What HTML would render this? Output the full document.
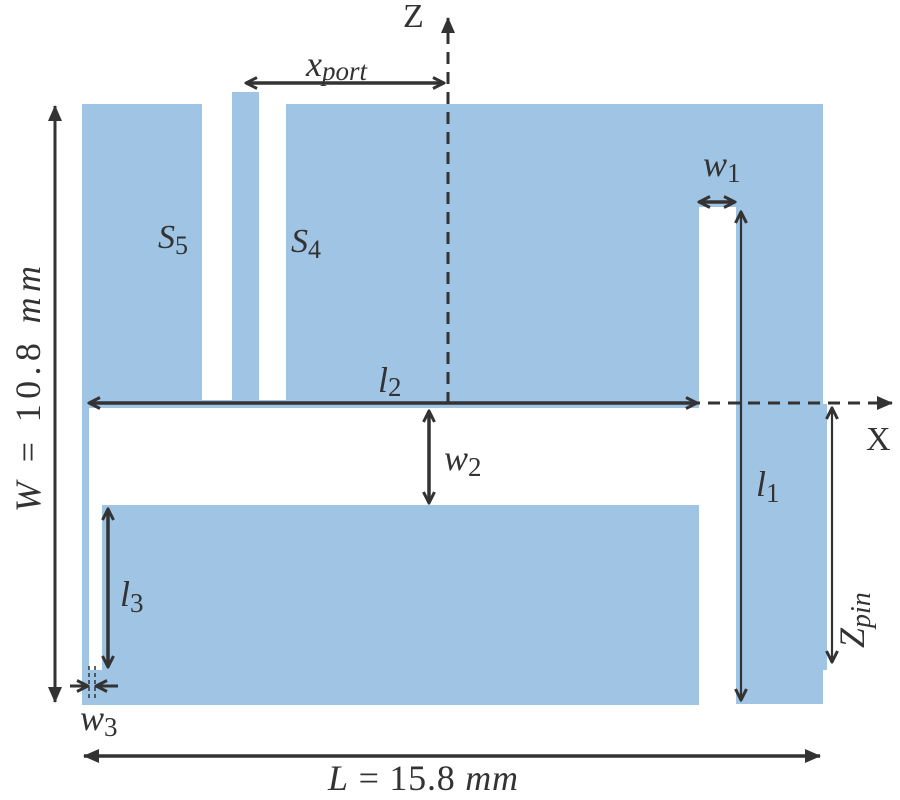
<!DOCTYPE html>
<html><head><meta charset="utf-8"><style>
html,body{margin:0;padding:0;background:#fff}
svg{display:block}
text{font-family:"Liberation Serif",serif;fill:#333}
.i{font-style:italic}
</style></head><body>
<svg width="900" height="800" viewBox="0 0 900 800" xmlns="http://www.w3.org/2000/svg">
<defs>
<marker id="o" viewBox="0 0 14 14" refX="12.5" refY="7" markerWidth="14" markerHeight="14" markerUnits="userSpaceOnUse" orient="auto-start-reverse">
<path d="M1.5,1.5 L12.5,7 L1.5,12.5" fill="none" stroke="#333" stroke-width="3"/>
</marker>
<marker id="f" viewBox="0 0 16 16" refX="15" refY="8" markerWidth="16" markerHeight="16" markerUnits="userSpaceOnUse" orient="auto-start-reverse">
<path d="M0,1 L16,8 L0,15 Z" fill="#333"/>
</marker>
</defs>
<g fill="#a0c4e4">
<rect x="82" y="104" width="120" height="304"/>
<rect x="232" y="92" width="27" height="316"/>
<rect x="286" y="104" width="413" height="304"/>
<rect x="202" y="400" width="84" height="8"/>
<rect x="699" y="104" width="37" height="103"/>
<rect x="736" y="104" width="87" height="600"/>
<rect x="823" y="404" width="4" height="266"/>
<rect x="82" y="404" width="7" height="301"/>
<rect x="82" y="670" width="20" height="35"/>
<rect x="102" y="505" width="597" height="200"/>
</g>
<g stroke="#333" fill="none">
<line x1="448" y1="404" x2="448" y2="18" stroke-width="3" stroke-dasharray="12,8" marker-end="url(#f)"/>
<line x1="448" y1="403" x2="892" y2="403" stroke-width="3" stroke-dasharray="12,8" marker-end="url(#f)"/>
<line x1="55" y1="106" x2="55" y2="702" stroke-width="3" marker-start="url(#f)" marker-end="url(#f)"/>
<line x1="84" y1="756" x2="820" y2="756" stroke-width="3.5" marker-start="url(#f)" marker-end="url(#f)"/>
<line x1="246" y1="83" x2="444" y2="83" stroke-width="3.5" marker-start="url(#o)" marker-end="url(#o)"/>
<line x1="89" y1="403" x2="697" y2="403" stroke-width="3.5" marker-start="url(#o)" marker-end="url(#o)"/>
<line x1="429" y1="411" x2="429" y2="503" stroke-width="3.5" marker-start="url(#o)" marker-end="url(#o)"/>
<line x1="699" y1="202" x2="735" y2="202" stroke-width="3.5" marker-start="url(#o)" marker-end="url(#o)"/>
<line x1="741" y1="212" x2="741" y2="700" stroke-width="2.2" marker-start="url(#o)" marker-end="url(#o)"/>
<line x1="832" y1="408" x2="832" y2="662" stroke-width="2.2" marker-start="url(#o)" marker-end="url(#o)"/>
<line x1="108" y1="509" x2="108" y2="667" stroke-width="3.5" marker-start="url(#o)" marker-end="url(#o)"/>
<line x1="70" y1="686" x2="88" y2="686" stroke-width="3" marker-end="url(#o)"/>
<line x1="118" y1="686" x2="96" y2="686" stroke-width="3" marker-end="url(#o)"/>
<line x1="89" y1="666" x2="89" y2="698" stroke-width="1.5" stroke-dasharray="4,3"/>
<line x1="95" y1="666" x2="95" y2="698" stroke-width="1.5" stroke-dasharray="4,3"/>
</g>
<text x="403" y="27" font-size="34">Z</text>
<text x="866" y="450" font-size="34">X</text>
<text x="306" y="76" font-size="36" class="i">x<tspan font-size="27" dy="4">port</tspan></text>
<text x="158" y="248" font-size="34" class="i">S<tspan font-size="26" dy="6" font-style="normal">5</tspan></text>
<text x="291" y="252" font-size="34" class="i">S<tspan font-size="26" dy="6" font-style="normal">4</tspan></text>
<text x="378" y="392" font-size="36" class="i">l<tspan font-size="27" dy="4" font-style="normal">2</tspan></text>
<text x="444" y="470" font-size="36" class="i">w<tspan font-size="27" dy="6" font-style="normal">2</tspan></text>
<text x="703" y="176" font-size="36" class="i">w<tspan font-size="27" dy="6" font-style="normal">1</tspan></text>
<text x="756" y="496" font-size="36" class="i">l<tspan font-size="27" dy="6" font-style="normal">1</tspan></text>
<text x="120" y="606" font-size="36" class="i">l<tspan font-size="27" dy="6" font-style="normal">3</tspan></text>
<text x="80" y="730" font-size="36" class="i">w<tspan font-size="27" dy="6" font-style="normal">3</tspan></text>
<text x="328" y="790" font-size="36" textLength="190" lengthAdjust="spacing"><tspan class="i">L</tspan> = 15.8 <tspan class="i">mm</tspan></text>
<text transform="translate(40,512) rotate(-90)" font-size="36" textLength="246" lengthAdjust="spacing"><tspan class="i">W</tspan> = 10.8 <tspan class="i">mm</tspan></text>
<text transform="translate(864,648) rotate(-90)" font-size="36" class="i">Z<tspan font-size="28" dy="6">pin</tspan></text>
</svg>
</body></html>
